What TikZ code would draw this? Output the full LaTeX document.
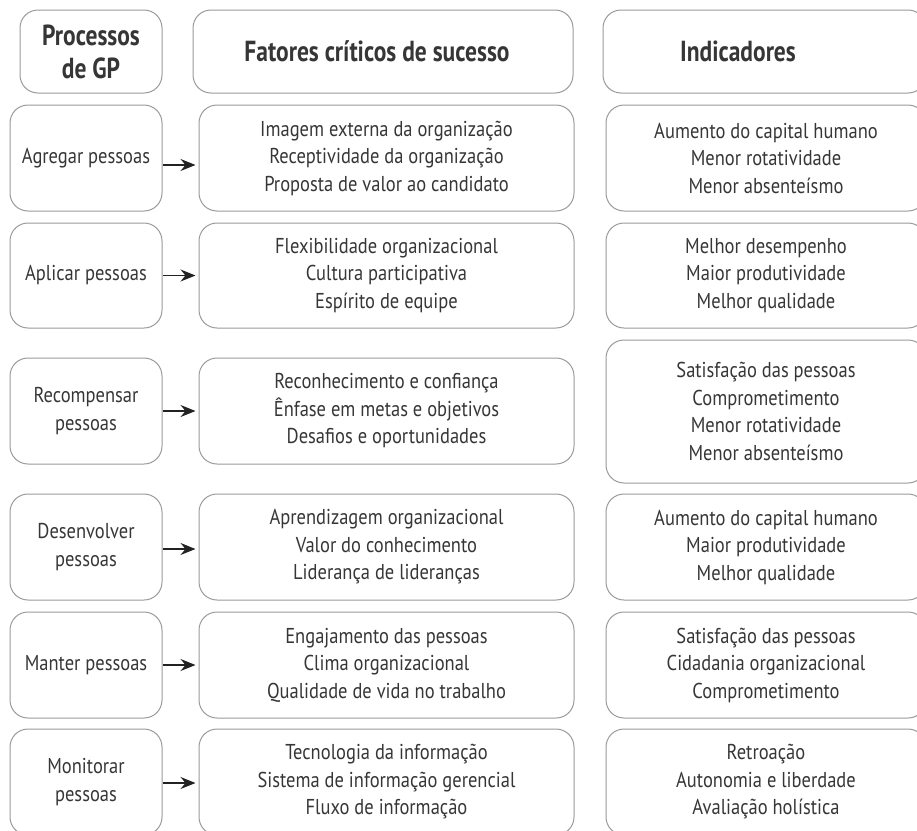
\documentclass[tikz,border=0pt]{standalone}
\usepackage{fontspec}
\setmainfont{PT Sans}[FakeStretch=0.86]
\newfontfamily\headfont{PT Sans Bold}[FakeStretch=0.81]
\usetikzlibrary{arrows.meta}
\definecolor{boxgray}{HTML}{9A9A9A}
\definecolor{txtgray}{HTML}{363636}
\definecolor{arrowdark}{HTML}{222222}
\begin{document}
\begin{tikzpicture}[x=1pt,y=-1pt,
  card/.style={draw=boxgray, line width=1pt, rounded corners=18pt,
    align=center, text=txtgray, inner sep=0pt,
    font=\fontsize{21.5}{27.5}\selectfont},
  headcard/.style={card, minimum height=83pt,
    font=\fontsize{29}{33}\selectfont\headfont},
  headtext/.style={text=txtgray, align=center, inner sep=0pt,
    font=\fontsize{29}{33}\selectfont\headfont},
  proc/.style={card, minimum width=152pt},
  fact/.style={card, minimum width=375pt},
  indi/.style={card, minimum width=320pt},
  flow/.style={draw=arrowdark, line width=1.2pt,
    -{Stealth[length=15pt,width=12pt,inset=5pt]}, shorten >=3pt}]
\clip (0,0) rectangle (917,830);

% column headers
\node[headcard, minimum width=142pt] (hP) at (91,51.5) {Processos\\de GP};
\node[headcard, minimum width=380pt] (hF) at (383,51.5) {};
\node[headtext] (hFt) at (377,51.5) {Fatores críticos de sucesso};
\node[headcard, minimum width=323pt] (hI) at (764.5,51.5) {};
\node[headtext] (hIt) at (738,51.5) {Indicadores};

% row 1
\node[proc, minimum height=106pt] (p1) at (86,158) {Agregar pessoas};
\node[fact, minimum height=106pt] (f1) at (386.5,158) {Imagem externa da organização\\Receptividade da organização\\Proposta de valor ao candidato};
\node[indi, minimum height=106pt] (i1) at (766,158) {Aumento do capital humano\\Menor rotatividade\\Menor absenteísmo};

% row 2
\node[proc, minimum height=105pt] (p2) at (86,275.5) {Aplicar pessoas};
\node[fact, minimum height=105pt] (f2) at (386.5,275.5) {Flexibilidade organizacional\\Cultura participativa\\Espírito de equipe};
\node[indi, minimum height=105pt] (i2) at (766,275.5) {Melhor desempenho\\Maior produtividade\\Melhor qualidade};

% row 3
\node[proc, minimum height=106pt] (p3) at (86,411) {Recompensar\\pessoas};
\node[fact, minimum height=106pt] (f3) at (386.5,411) {Reconhecimento e confiança\\Ênfase em metas e objetivos\\Desafios e oportunidades};
\node[indi, minimum height=143pt] (i3) at (766,411.5) {Satisfação das pessoas\\Comprometimento\\Menor rotatividade\\Menor absenteísmo};

% row 4
\node[proc, minimum height=106pt] (p4) at (86,547) {Desenvolver\\pessoas};
\node[fact, minimum height=106pt] (f4) at (386.5,547) {Aprendizagem organizacional\\Valor do conhecimento\\Liderança de lideranças};
\node[indi, minimum height=106pt] (i4) at (766,547) {Aumento do capital humano\\Maior produtividade\\Melhor qualidade};

% row 5
\node[proc, minimum height=106pt] (p5) at (86,665) {Manter pessoas};
\node[fact, minimum height=106pt] (f5) at (386.5,665) {Engajamento das pessoas\\Clima organizacional\\Qualidade de vida no trabalho};
\node[indi, minimum height=106pt] (i5) at (766,665) {Satisfação das pessoas\\Cidadania organizacional\\Comprometimento};

% row 6
\node[proc, minimum height=106pt] (p6) at (86,782) {Monitorar\\pessoas};
\node[fact, minimum height=106pt] (f6) at (386.5,782) {Tecnologia da informação\\Sistema de informação gerencial\\Fluxo de informação};
\node[indi, minimum height=106pt] (i6) at (766,782) {Retroação\\Autonomia e liberdade\\Avaliação holística};

% process -> factor arrows
\draw[flow] ([yshift=-7pt]p1.east) -- ([yshift=-7pt]f1.west);
\draw[flow] (p2.east) -- (f2.west);
\draw[flow] (p3.east) -- (f3.west);
\draw[flow] ([yshift=-2pt]p4.east) -- ([yshift=-2pt]f4.west);
\draw[flow] (p5.east) -- (f5.west);
\draw[flow] ([yshift=-1pt]p6.east) -- ([yshift=-1pt]f6.west);
\end{tikzpicture}
\end{document}
